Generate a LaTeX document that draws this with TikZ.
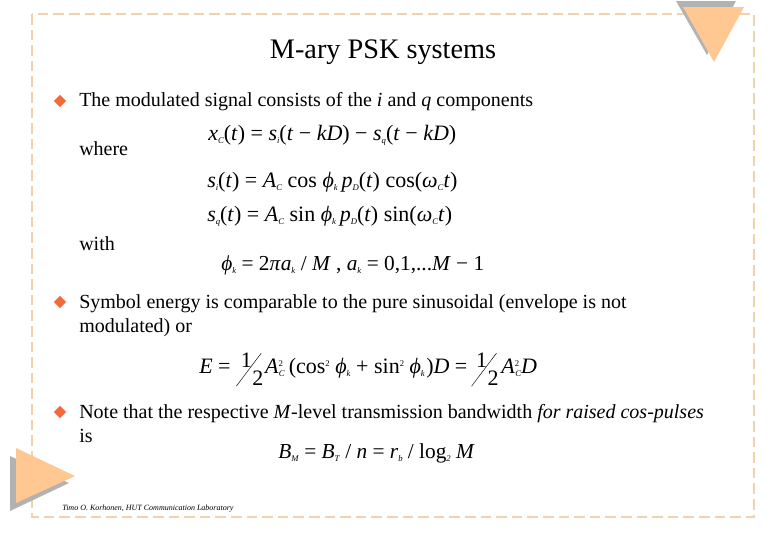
\documentclass[tikz,border=0pt]{standalone}
\usepackage{fontspec}
\setmainfont{Liberation Serif}
\usetikzlibrary{shapes.geometric}
\definecolor{framecol}{HTML}{F0D3AC}
\definecolor{wedgecol}{HTML}{FFC792}
\definecolor{shadecol}{HTML}{B2B2B2}
\definecolor{bulletcol}{HTML}{F4693A}
\newcommand{\mv}[1]{\textit{#1}}
\newcommand{\sbx}[1]{\raisebox{-2.5pt}{\fontsize{6.5}{7}\selectfont\textit{#1}}}
\newcommand{\spx}[1]{\raisebox{5pt}{\fontsize{6.5}{7}\selectfont #1}}
\newcommand{\halfx}{\makebox[19pt][l]{\raisebox{-10pt}{\rlap{\rotatebox{53}{\rule{31pt}{0.35pt}}}}\kern3.5pt\raisebox{4pt}{1}\kern0.5pt\raisebox{-9pt}{2}}}
\tikzset{
  body/.style={anchor=base west,inner sep=0pt,font=\fontsize{15}{18}\selectfont},
  formula/.style={anchor=base west,inner sep=0pt,font=\fontsize{16.5}{20}\selectfont},
  formulab/.style={formula,font=\fontsize{16}{20}\selectfont},
  bullet/.style={diamond,fill=bulletcol,inner sep=0pt,minimum size=9.5pt}
}
\begin{document}
\begin{tikzpicture}[x=0.75pt,y=-0.75pt]
  \useasboundingbox (0,0) rectangle (780,540);
  % Frame and corner wedges
  \draw[framecol,line width=2.2pt,dash pattern=on 8pt off 3.7pt] (32,14) rectangle (754,517);
  \fill[shadecol] (676,1) -- (736,1) -- (707,55) -- cycle;
  \fill[wedgecol] (683,7) -- (744,7) -- (714,62) -- cycle;
  \fill[shadecol] (10,456) -- (10,511) -- (69,483) -- cycle;
  \fill[wedgecol] (16,448) -- (16,503) -- (75,476) -- cycle;

  % Title and footer
  \node[anchor=base,inner sep=0pt,font=\fontsize{21.2}{24}\selectfont] (title) at (383,58) {M-ary PSK systems};
  \node[anchor=base west,inner sep=0pt,font=\fontsize{6}{7}\selectfont\itshape] (footer) at (62,510) {Timo O. Korhonen, HUT Communication Laboratory};

  % Bullets
  \foreach \n/\y in {a/101, b/302, c/412} {
    \node[bullet] (bullet\n) at (60,\y) {};
  }

  % Body text
  \node[body] (line1) at (79,106) {The modulated signal consists of the \mv{i} and \mv{q} components};
  \node[body] (where) at (79,155) {where};
  \node[body] (with) at (79,250) {with};
  \node[body] (line2) at (79,308) {Symbol energy is comparable to the pure sinusoidal (envelope is not};
  \node[body] (line3) at (79,332) {modulated) or};
  \node[body] (line4) at (79,418) {Note that the respective \mv{M}-level transmission bandwidth \mv{for raised cos-pulses}};
  \node[body] (line5) at (79,442) {is};

  % Formulas
  \node[formula] (eqx) at (208,140) {\mv{x}\sbx{C}(\mv{t}) = \mv{s}\sbx{i}(\mv{t} − \mv{kD}) − \mv{s}\sbx{q}(\mv{t} − \mv{kD})};
  \node[formula] (eqi) at (207,187) {\mv{s}\sbx{i}(\mv{t}) = \mv{A}\sbx{C} cos \mv{ϕ}\sbx{k}\,\mv{p}\sbx{D}(\mv{t}) cos(\mv{ω}\sbx{C}\mv{t})};
  \node[formula] (eqq) at (207,221) {\mv{s}\sbx{q}(\mv{t}) = \mv{A}\sbx{C} sin \mv{ϕ}\sbx{k}\,\mv{p}\sbx{D}(\mv{t}) sin(\mv{ω}\sbx{C}\mv{t})};
  \node[formulab] (eqphi) at (221,270) {\mv{ϕ}\sbx{k} = 2\mv{π}\mv{a}\sbx{k} / \mv{M} , \mv{a}\sbx{k} = 0,1,...\mv{M} − 1};
  \node[formula] (eqe) at (199,373) {\mv{E} = \halfx\,\mv{A}\spx{2}\kern-3pt\sbx{C}\kern3pt(cos\spx{2} \mv{ϕ}\sbx{k} + sin\spx{2} \mv{ϕ}\sbx{k}\kern1pt)\mv{D} =\kern3pt\halfx\kern3.5pt\mv{A}\spx{2}\kern-3pt\sbx{C}\mv{D}};
  \node[formulab] (eqb) at (278,458) {\mv{B}\sbx{M} = \mv{B}\sbx{T} / \mv{n} = \mv{r}\sbx{b} / log\sbx{2} \mv{M}};
\end{tikzpicture}
\end{document}
